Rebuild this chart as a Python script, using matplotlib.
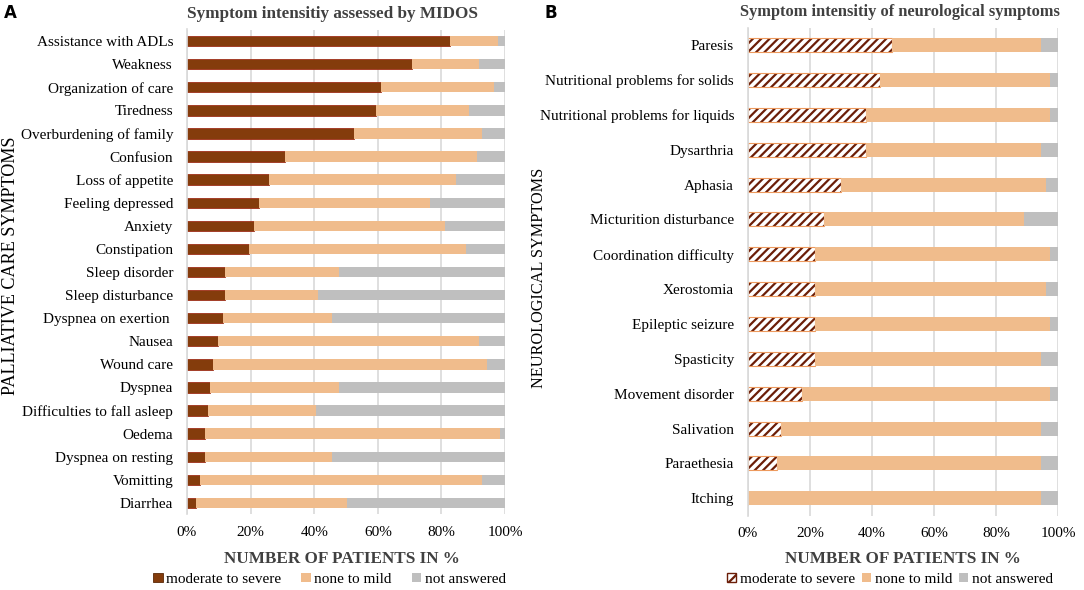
import numpy as np
import matplotlib
matplotlib.use('Agg')
import matplotlib.pyplot as plt
from matplotlib.patches import Patch

plt.rcParams['font.family'] = ['Liberation Serif', 'DejaVu Serif']
plt.rcParams['hatch.linewidth'] = 1.6

# panel A - MIDOS symptoms (cumulative ends, in %)
midos_labels = ['Assistance with ADLs', 'Weakness', 'Organization of care', 'Tiredness',
                'Overburdening of family', 'Confusion', 'Loss of appetite', 'Feeling depressed',
                'Anxiety', 'Constipation', 'Sleep disorder', 'Sleep disturbance',
                'Dyspnea on exertion ', 'Nausea', 'Wound care', 'Dyspnea',
                'Difficulties to fall asleep', 'Oedema', 'Dyspnea on resting', 'Vomitting', 'Diarrhea']
midos_severe = [82.7, 70.8, 61.0, 59.4, 52.5, 30.8, 25.8, 22.6, 21.1, 19.5, 11.9, 11.9,
                11.3, 9.7, 8.2, 7.2, 6.6, 5.7, 5.7, 4.1, 2.8]
midos_mild = [15.0, 21.0, 35.5, 29.3, 40.3, 60.4, 58.8, 53.8, 60.0, 68.2, 35.9, 29.3,
              34.3, 82.1, 86.1, 40.6, 34.0, 92.7, 39.9, 88.7, 47.5]

# panel B - neurological symptoms
neuro_labels = ['Paresis', 'Nutritional problems for solids', 'Nutritional problems for liquids',
                'Dysarthria', 'Aphasia', 'Micturition disturbance', 'Coordination difficulty',
                'Xerostomia', 'Epileptic seizure', 'Spasticity', 'Movement disorder',
                'Salivation', 'Paraethesia', 'Itching']
neuro_severe = [46.5, 42.5, 38.2, 38.2, 30.0, 24.4, 21.7, 21.7, 21.7, 21.7, 17.5, 10.8, 9.5, 0.0]
neuro_mild = [47.9, 54.8, 59.1, 56.2, 66.0, 64.5, 75.6, 74.3, 75.6, 72.7, 79.8, 83.6, 84.9, 94.4]

legend_labels = ['moderate to severe', 'none to mild', 'not answered']
xticks = [0, 20, 40, 60, 80, 100]

dark = '#843C0C'
light = '#F0BC8C'
grey = '#BFBFBF'
grid = '#D9D9D9'

fig = plt.figure(figsize=(10.84, 5.90), dpi=100)
axA = fig.add_axes([0.1725, 0.128, 0.2934, 0.822])
axB = fig.add_axes([0.690, 0.126, 0.286, 0.827])


def style_axis(ax, n):
    ax.set_xlim(0, 100)
    ax.set_ylim(n - 0.5, -0.5)
    ax.set_xticks(xticks)
    ax.set_xticklabels([f'{t}%' for t in xticks], fontsize=11)
    ax.xaxis.grid(True, color=grid, linewidth=1.2)
    ax.set_axisbelow(True)
    for s in ['top', 'right', 'bottom']:
        ax.spines[s].set_visible(False)
    ax.spines['left'].set_color(grid)
    ax.spines['left'].set_linewidth(1.2)
    ax.tick_params(axis='both', length=0)
    ax.tick_params(axis='y', labelsize=11, pad=10)
    ax.tick_params(axis='x', pad=8)


# panel A
y = np.arange(len(midos_labels))
sev = np.array(midos_severe)
mild = np.array(midos_mild)
axA.barh(y, sev, height=0.45, color=dark, edgecolor='#A0301A', linewidth=0.6)
axA.barh(y, mild, left=sev, height=0.45, color=light, linewidth=0)
axA.barh(y, 100 - sev - mild, left=sev + mild, height=0.45, color=grey, linewidth=0)
axA.set_yticks(y)
axA.set_yticklabels(midos_labels)
style_axis(axA, len(midos_labels))

# panel B
y = np.arange(len(neuro_labels))
sev = np.array(neuro_severe)
mild = np.array(neuro_mild)
axB.barh(y, sev, height=0.4, color='white', edgecolor='#6B1E08', hatch='////', linewidth=0)
axB.barh(y, sev, height=0.4, color='none', edgecolor='#ED9A5E', linewidth=0.8)
axB.barh(y, mild, left=sev, height=0.4, color=light, linewidth=0)
axB.barh(y, 100 - sev - mild, left=sev + mild, height=0.4, color=grey, linewidth=0)
axB.set_yticks(y)
axB.set_yticklabels(neuro_labels)
style_axis(axB, len(neuro_labels))

# x labels
fig.text(0.3155, 0.052, 'NUMBER OF PATIENTS IN %', ha='center', va='center',
         fontsize=12.3, fontweight='bold', color='#404040')
fig.text(0.833, 0.052, 'NUMBER OF PATIENTS IN %', ha='center', va='center',
         fontsize=12.3, fontweight='bold', color='#404040')

# legends
legend_kw = dict(loc='center', ncol=3, frameon=False, fontsize=11, handlelength=0.6,
                 handleheight=0.6, handletextpad=0.25)
fig.legend(handles=[Patch(facecolor=dark, edgecolor='#5A2808', linewidth=0.6),
                    Patch(facecolor=light), Patch(facecolor=grey)],
           labels=legend_labels, bbox_to_anchor=(0.304, 0.018), columnspacing=1.3,
           **legend_kw)
fig.legend(handles=[Patch(facecolor='white', edgecolor='#6B1E08', hatch='///'),
                    Patch(facecolor=light), Patch(facecolor=grey)],
           labels=legend_labels, bbox_to_anchor=(0.821, 0.018), columnspacing=0.45,
           **legend_kw)

# titles, panel letters, y labels
fig.text(0.307, 0.976, 'Symptom intensitiy assessed by MIDOS', ha='center', va='center',
         fontsize=12.3, fontweight='bold', color='#404040')
fig.text(0.830, 0.979, 'Symptom intensitiy of neurological symptoms', ha='center', va='center',
         fontsize=11.8, fontweight='bold', color='#404040')
fig.text(0.004, 0.978, 'A', fontsize=12, fontweight='bold', family='DejaVu Sans', va='center')
fig.text(0.502, 0.978, 'B', fontsize=12, fontweight='bold', family='DejaVu Sans', va='center')
fig.text(0.010, 1 - 266 / 590, 'PALLIATIVE CARE SYMPTOMS', rotation=90, ha='center',
         va='center', fontsize=13.1)
fig.text(0.497, 1 - 278 / 590, 'NEUROLOGICAL SYMPTOMS', rotation=90, ha='center',
         va='center', fontsize=11.7)

fig.savefig('out.png', dpi=100)
